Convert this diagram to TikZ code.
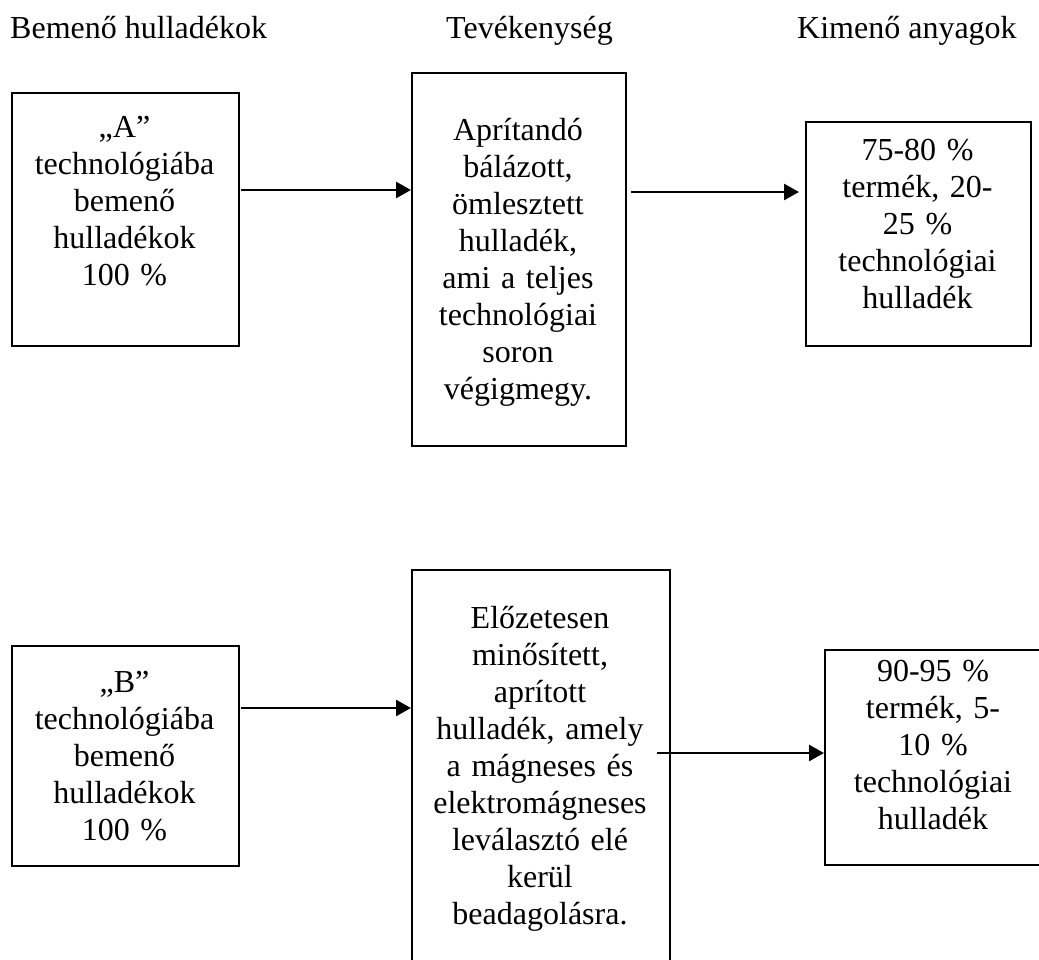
\documentclass[tikz,border=0pt]{standalone}
\usepackage{fontspec}
\setmainfont{Liberation Serif}
\usetikzlibrary{arrows.meta}
\begin{document}
\begin{tikzpicture}[x=1pt,y=-1pt,
  box/.style={draw, line width=1.8pt, inner sep=0pt, anchor=north west},
  txt/.style={inner sep=0pt, text width=300pt, align=center, anchor=base, font=\fontsize{32}{37}\selectfont},
  head/.style={inner sep=0pt, anchor=base west, font=\fontsize{32}{37}\selectfont},
  arr/.style={line width=2.6pt, -{Triangle[length=15pt,width=16pt]}}]
\clip (0,0) rectangle (1039,959);
\fill[white] (0,0) rectangle (1039,959);
% headers
\node[head] (h1) at (10,38) {Bemenő hulladékok};
\node[head] (h2) at (446,38) {Tevékenység};
\node[head] (h3) at (797,38) {Kimenő anyagok};
% boxes
\node[box, minimum width=227pt, minimum height=253pt] (a1) at (11,92) {};
\node[box, minimum width=214pt, minimum height=373pt] (mA) at (411,72) {};
\node[box, minimum width=225pt, minimum height=224pt] (oA) at (805,121) {};
\node[box, minimum width=227pt, minimum height=220pt] (b1) at (11,645) {};
\node[box, minimum width=258pt, minimum height=420pt] (mB) at (411,569) {};
\node[box, minimum width=218pt, minimum height=215pt] (oB) at (824,649) {};
% texts
\node[txt] (a1t) at (124.5,137) {„A”\\technológiába\\bemenő\\hulladékok\\100 \%};
\node[txt] (mAt) at (518,140) {Aprítandó\\bálázott,\\ömlesztett\\hulladék,\\ami a teljes\\technológiai\\soron\\végigmegy.};
\node[txt] (oAt) at (917.5,160) {75-80 \%\\termék, 20-\\25 \%\\technológiai\\hulladék};
\node[txt] (b1t) at (124.5,692) {„B”\\technológiába\\bemenő\\hulladékok\\100 \%};
\node[txt] (mBt) at (540,628) {Előzetesen\\minősített,\\aprított\\hulladék, amely\\a mágneses és\\elektromágneses\\leválasztó elé\\kerül\\beadagolásra.};
\node[txt] (oBt) at (933,681) {90-95 \%\\termék, 5-\\10 \%\\technológiai\\hulladék};
% arrows
\coordinate (s1) at (241,190);
\coordinate (s2) at (631,192);
\coordinate (s3) at (241,708);
\coordinate (s4) at (657,753);
\draw[arr] (s1) -- (s1 -| mA.west);
\draw[arr, shorten >=6pt] (s2) -- (s2 -| oA.west);
\draw[arr] (s3) -- (s3 -| mB.west);
\draw[arr] (s4) -- (s4 -| oB.west);
\end{tikzpicture}
\end{document}
